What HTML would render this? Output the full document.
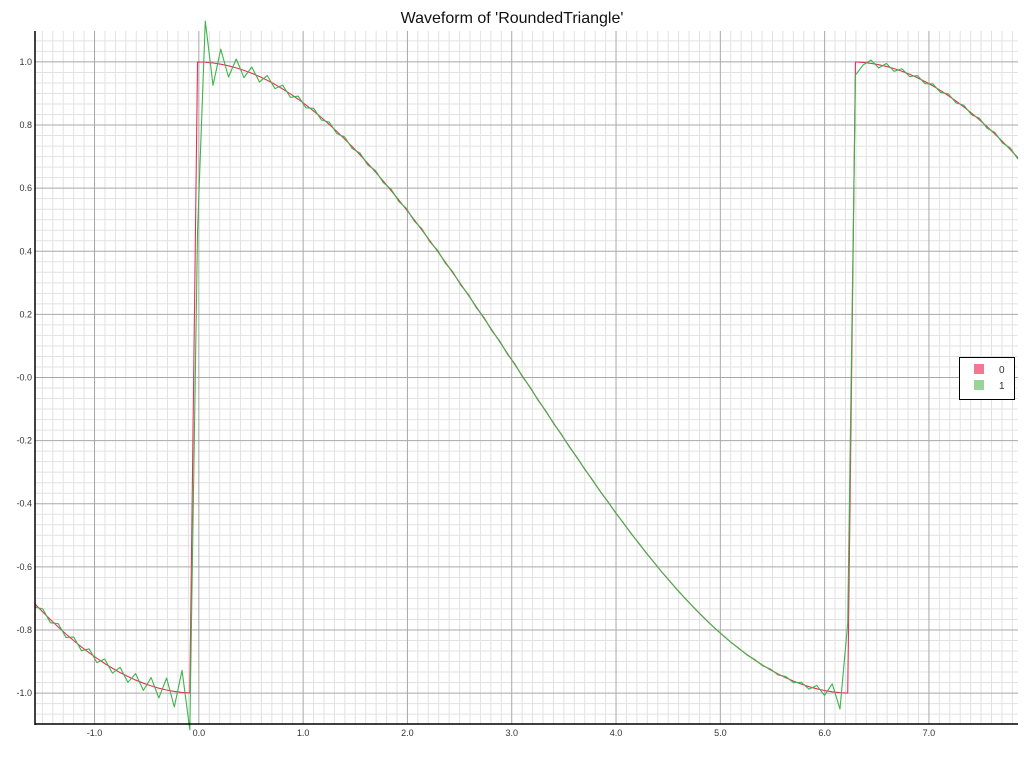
<!DOCTYPE html>
<html><head><meta charset="utf-8"><style>
html,body{margin:0;padding:0;background:#fff;width:1024px;height:760px;overflow:hidden}
svg{display:block;font-family:"Liberation Sans",sans-serif}
</style></head><body>
<svg id="chart" width="1024" height="760" viewBox="0 0 1024 760">
<text x="512" y="23" text-anchor="middle" font-size="16" fill="#111">Waveform of 'RoundedTriangle'</text>
<g id="grid"></g>
<g id="series"></g>
<g id="axes"></g>
<g>
<rect x="959.5" y="357.5" width="55" height="42" fill="#fff" stroke="#000" stroke-width="1"/>
<rect x="974" y="364" width="10" height="10" fill="#ee7a96"/>
<text x="999" y="373" font-size="10" fill="#333">0</text>
<rect x="974" y="380" width="10" height="10" fill="#98d498"/>
<text x="999" y="389" font-size="10" fill="#333">1</text>
</g>
</svg>
<script>
const xTicks = [-1,0,1,2,3,4,5,6,7];
const xTickLabels = ["-1.0","0.0","1.0","2.0","3.0","4.0","5.0","6.0","7.0"];
const yTicks = [-1,-0.8,-0.6,-0.4,-0.2,0,0.2,0.4,0.6,0.8,1];
const yTickLabels = ["-1.0","-0.8","-0.6","-0.4","-0.2","-0.0","0.2","0.4","0.6","0.8","1.0"];
const seriesNames = ["0","1"];
const sampleCount = 128;
const harmonics = 42;
const phase = -0.03;

const L=35,R=1018,T=31,B=724;
const xMin=-Math.PI/2, xMax=5*Math.PI/2, yMin=-1.098, yMax=1.098;
function sx(v){return L+(v-xMin)/(xMax-xMin)*(R-L);}
function sy(v){return B-(v-yMin)/(yMax-yMin)*(B-T);}
const NS='http://www.w3.org/2000/svg';
function mk(tag,attrs,parent){const e=document.createElementNS(NS,tag);for(const k in attrs)e.setAttribute(k,attrs[k]);parent.appendChild(e);return e;}
const grid=document.getElementById('grid'),axes=document.getElementById('axes'),series=document.getElementById('series');
for(let i=Math.ceil(xMin*10);i<=Math.floor(xMax*10);i++){const v=i/10;if(i%10===0)continue;
 const l=mk('line',{x1:sx(v),x2:sx(v),y1:T,y2:B,stroke:'#e2e2e2','stroke-width':1},grid);
 
 }
for(let i=Math.ceil(yMin*30);i<=Math.floor(yMax*30);i++){const v=i/30;if(i%6===0)continue;
 const l=mk('line',{x1:L,x2:R,y1:sy(v),y2:sy(v),stroke:'#e2e2e2','stroke-width':1},grid);
 
 }
xTicks.forEach((v,i)=>{
 const l=mk('line',{x1:sx(v),x2:sx(v),y1:T,y2:B,stroke:'#a8a8a8','stroke-width':1},grid);
 
 
 const t=mk('text',{x:sx(v),y:B+12,'text-anchor':'middle','font-size':9,fill:'#333'},axes);
 t.textContent=xTickLabels[i];
 
 
});
yTicks.forEach((v,i)=>{
 const l=mk('line',{x1:L,x2:R,y1:sy(v),y2:sy(v),stroke:'#a8a8a8','stroke-width':1},grid);
 
 
 const t=mk('text',{x:L-3,y:sy(v)+3,'text-anchor':'end','font-size':9,fill:'#333'},axes);
 t.textContent=yTickLabels[i];
 
 
});
const ax1=mk('line',{x1:L,x2:L,y1:T,y2:B+1,stroke:'#000','stroke-width':1.5},axes);


const ax2=mk('line',{x1:L,x2:R,y1:B,y2:B,stroke:'#000','stroke-width':1.5},axes);



function wrap(x){let t=(x-phase)%(2*Math.PI);if(t<0)t+=2*Math.PI;return t;}
function exact(x){return Math.cos(wrap(x)/2);}
function fourier(x){const t=x-phase;let s=0;for(let n=1;n<=harmonics;n++)s+=8*n/(Math.PI*(4*n*n-1))*Math.sin(n*t);return s;}
const xs=[];for(let k=0;k<sampleCount;k++)xs.push(xMin+k*(xMax-xMin)/(sampleCount-1));
const s0=xs.map(exact), s1=xs.map(fourier);
function path(ys,color,name){
 const d=xs.map((x,i)=>(i?'L':'M')+sx(x).toFixed(2)+' '+sy(ys[i]).toFixed(2)).join(' ');
 const p=mk('path',{d:d,fill:'none',stroke:color,'stroke-width':1.1,'stroke-linejoin':'round'},series);
 
 
}
path(s0,'#e8305a','series-0-line');
path(s1,'#3fb34a','series-1-line');
</script>
</body></html>
